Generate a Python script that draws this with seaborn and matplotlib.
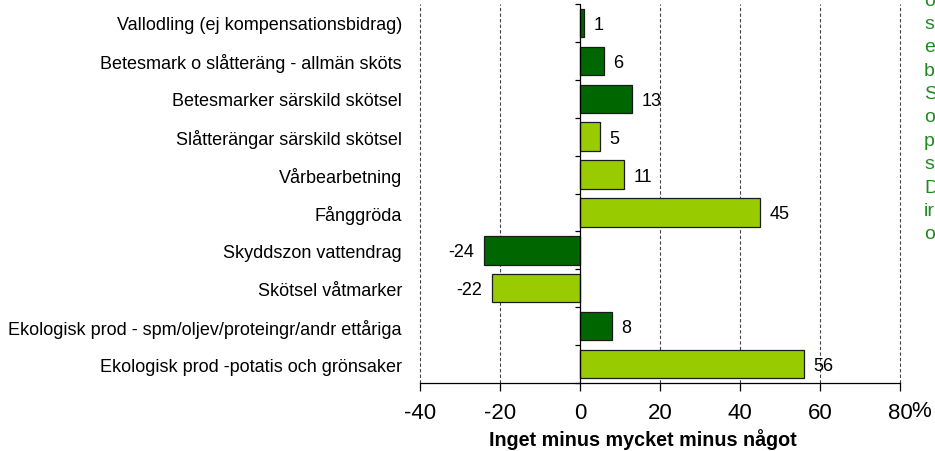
import matplotlib
matplotlib.use("Agg")
import matplotlib.pyplot as plt
import seaborn as sns
import pandas as pd

categories = [
    "Vallodling (ej kompensationsbidrag)",
    "Betesmark o slåtteräng - allmän sköts",
    "Betesmarker särskild skötsel",
    "Slåtterängar särskild skötsel",
    "Vårbearbetning",
    "Fånggröda",
    "Skyddszon vattendrag",
    "Skötsel våtmarker",
    "Ekologisk prod - spm/oljev/proteingr/andr ettåriga",
    "Ekologisk prod -potatis och grönsaker",
]
values = [1, 6, 13, 5, 11, 45, -24, -22, 8, 56]
groups = ["A", "A", "A", "B", "B", "B", "A", "B", "A", "B"]
palette = {"A": "#006600", "B": "#99CC00"}
xticks = [-40, -20, 0, 20, 40, 60, 80]
side_note = ["o", "s", "e", "b", "S", "o", "p", "s", "D", "ir", "o"]

df = pd.DataFrame({"kategori": categories, "varde": values, "grupp": groups})

sns.set_theme(style="white")
plt.rcParams["font.family"] = ["Liberation Sans", "DejaVu Sans"]
plt.rcParams["text.color"] = "black"
plt.rcParams["axes.labelcolor"] = "black"
plt.rcParams["xtick.color"] = "black"
plt.rcParams["ytick.color"] = "black"

fig = plt.figure(figsize=(9.35, 4.52), dpi=100)
ax = fig.add_axes([420 / 935, 68 / 452, 480 / 935, 379 / 452])

sns.barplot(data=df, x="varde", y="kategori", hue="grupp", palette=palette,
            saturation=1, dodge=False, orient="h", width=0.75,
            edgecolor="#1a1a1a", linewidth=0.9, legend=False, ax=ax, zorder=3)

ax.set_xlim(-40, 80)
ax.set_ylim(len(categories) - 0.5, -0.5)

# dashed vertical gridlines
for t in xticks:
    if t != 0:
        ax.axvline(t, color="#444444", linestyle=(0, (3, 2)), linewidth=0.8,
                   zorder=1, clip_on=False)

# zero line acting as the category axis, with ticks between categories
ax.axvline(0, color="black", linewidth=0.9, zorder=4)
bounds = [i - 0.5 for i in range(len(categories) + 1)]
ax.hlines(bounds, -1.3, 0, color="black", linewidth=0.9, zorder=4, clip_on=False)

for s in ["left", "right", "top"]:
    ax.spines[s].set_visible(False)
ax.spines["bottom"].set_color("black")
ax.spines["bottom"].set_linewidth(0.9)
ax.spines["bottom"].set_zorder(5)

ax.set_xticks(xticks)
ax.set_xticklabels([str(t) for t in xticks], fontsize=16)
ax.tick_params(axis="x", direction="out", length=6, width=0.9, pad=8, bottom=True)
ax.tick_params(axis="y", length=0, labelsize=13, pad=13)
ax.annotate("%", xy=(82.75, 0), xycoords=("data", "axes fraction"),
            xytext=(0, -12.5), textcoords="offset points", fontsize=16,
            ha="left", va="top", annotation_clip=False)

ax.set_ylabel("")
ax.set_xlabel("Inget minus mycket minus något", fontsize=14.2, fontweight="bold")
ax.xaxis.set_label_coords(0.465, -0.118)

# value labels
for i, v in enumerate(values):
    if v >= 0:
        ax.text(v + 2.4, i + 0.04, str(v), ha="left", va="center", fontsize=13, zorder=5)
    else:
        ax.text(v - 2.5, i + 0.04, str(v), ha="right", va="center", fontsize=13, zorder=5)

# green note at the right edge
for k, s in enumerate(side_note):
    fig.text(924 / 935, 1 - (1 + 23.4 * k) / 452, s, color="#1E8B1E", fontsize=14,
             ha="left", va="center")

fig.savefig("out.png", dpi=100)
